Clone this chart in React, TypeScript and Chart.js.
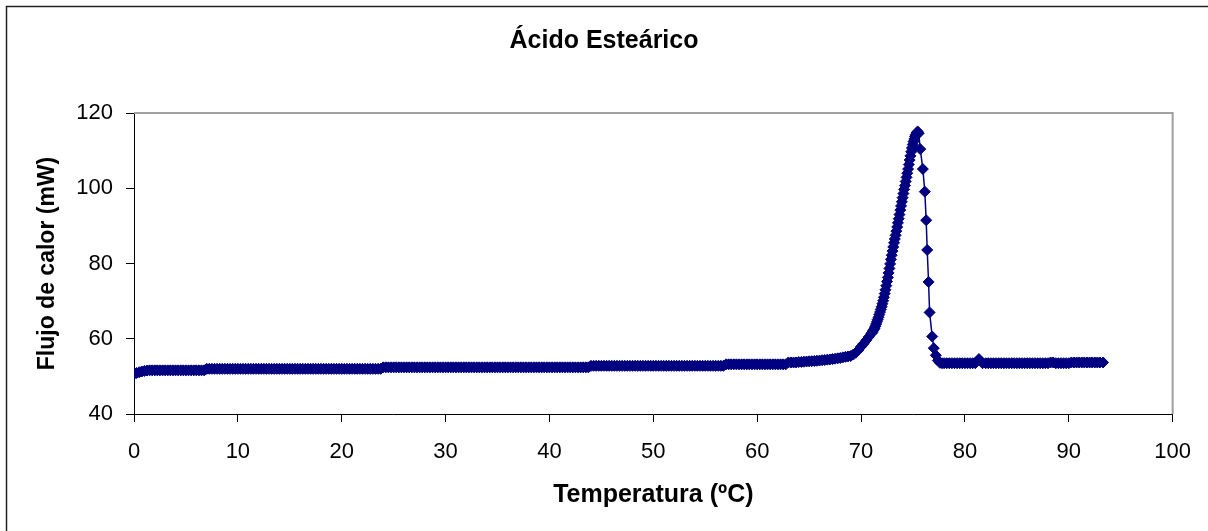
import { useEffect, useRef } from 'react';
import { Chart, registerables } from 'chart.js';

Chart.register(...registerables);

const chartTitle = 'Ácido Esteárico';
const xAxisTitle = 'Temperatura (ºC)';
const yAxisTitle = 'Flujo de calor (mW)';

const xTicks = [0, 10, 20, 30, 40, 50, 60, 70, 80, 90, 100];
const yTicks = [40, 60, 80, 100, 120];

// Baseline before melting (temperature ºC)
const baseTemps = [
  0, 0.25, 0.5, 0.75, 1, 1.25, 1.5, 1.75,
  2, 2.25, 2.5, 2.75, 3, 3.25, 3.5, 3.75,
  4, 4.25, 4.5, 4.75, 5, 5.25, 5.5, 5.75,
  6, 6.25, 6.5, 6.75, 7, 7.25, 7.5, 7.75,
  8, 8.25, 8.5, 8.75, 9, 9.25, 9.5, 9.75,
  10, 10.25, 10.5, 10.75, 11, 11.25, 11.5, 11.75,
  12, 12.25, 12.5, 12.75, 13, 13.25, 13.5, 13.75,
  14, 14.25, 14.5, 14.75, 15, 15.25, 15.5, 15.75,
  16, 16.25, 16.5, 16.75, 17, 17.25, 17.5, 17.75,
  18, 18.25, 18.5, 18.75, 19, 19.25, 19.5, 19.75,
  20, 20.25, 20.5, 20.75, 21, 21.25, 21.5, 21.75,
  22, 22.25, 22.5, 22.75, 23, 23.25, 23.5, 23.75,
  24, 24.25, 24.5, 24.75, 25, 25.25, 25.5, 25.75,
  26, 26.25, 26.5, 26.75, 27, 27.25, 27.5, 27.75,
  28, 28.25, 28.5, 28.75, 29, 29.25, 29.5, 29.75,
  30, 30.25, 30.5, 30.75, 31, 31.25, 31.5, 31.75,
  32, 32.25, 32.5, 32.75, 33, 33.25, 33.5, 33.75,
  34, 34.25, 34.5, 34.75, 35, 35.25, 35.5, 35.75,
  36, 36.25, 36.5, 36.75, 37, 37.25, 37.5, 37.75,
  38, 38.25, 38.5, 38.75, 39, 39.25, 39.5, 39.75,
  40, 40.25, 40.5, 40.75, 41, 41.25, 41.5, 41.75,
  42, 42.25, 42.5, 42.75, 43, 43.25, 43.5, 43.75,
  44, 44.25, 44.5, 44.75, 45, 45.25, 45.5, 45.75,
  46, 46.25, 46.5, 46.75, 47, 47.25, 47.5, 47.75,
  48, 48.25, 48.5, 48.75, 49, 49.25, 49.5, 49.75,
  50, 50.25, 50.5, 50.75, 51, 51.25, 51.5, 51.75,
  52, 52.25, 52.5, 52.75, 53, 53.25, 53.5, 53.75,
  54, 54.25, 54.5, 54.75, 55, 55.25, 55.5, 55.75,
  56, 56.25, 56.5, 56.75, 57, 57.25, 57.5, 57.75,
  58, 58.25, 58.5, 58.75, 59, 59.25, 59.5, 59.75,
  60, 60.25, 60.5, 60.75, 61, 61.25, 61.5, 61.75,
  62, 62.25, 62.5, 62.75, 63, 63.25, 63.5, 63.75,
  64, 64.25, 64.5, 64.75, 65, 65.25, 65.5, 65.75,
];

// Heat flow (mW) on the baseline
const baseFlux = [
  50.6, 50.9, 51.1, 51.3, 51.45, 51.55, 51.6, 51.6,
  51.6, 51.6, 51.6, 51.6, 51.6, 51.6, 51.6, 51.6,
  51.6, 51.6, 51.6, 51.6, 51.6, 51.6, 51.6, 51.6,
  51.6, 51.6, 51.6, 51.6, 52.0, 52.0, 52.0, 52.0,
  52.0, 52.0, 52.0, 52.0, 52.0, 52.0, 52.0, 52.0,
  52.0, 52.0, 52.0, 52.0, 52.0, 52.0, 52.0, 52.0,
  52.0, 52.0, 52.0, 52.0, 52.0, 52.0, 52.0, 52.0,
  52.0, 52.0, 52.0, 52.0, 52.0, 52.0, 52.0, 52.0,
  52.0, 52.0, 52.0, 52.0, 52.0, 52.0, 52.0, 52.0,
  52.0, 52.0, 52.0, 52.0, 52.0, 52.0, 52.0, 52.0,
  52.0, 52.0, 52.0, 52.0, 52.0, 52.0, 52.0, 52.0,
  52.0, 52.0, 52.0, 52.0, 52.0, 52.0, 52.0, 52.0,
  52.4, 52.4, 52.4, 52.4, 52.4, 52.4, 52.4, 52.4,
  52.4, 52.4, 52.4, 52.4, 52.4, 52.4, 52.4, 52.4,
  52.4, 52.4, 52.4, 52.4, 52.4, 52.4, 52.4, 52.4,
  52.4, 52.4, 52.4, 52.4, 52.4, 52.4, 52.4, 52.4,
  52.4, 52.4, 52.4, 52.4, 52.4, 52.4, 52.4, 52.4,
  52.4, 52.4, 52.4, 52.4, 52.4, 52.4, 52.4, 52.4,
  52.4, 52.4, 52.4, 52.4, 52.4, 52.4, 52.4, 52.4,
  52.4, 52.4, 52.4, 52.4, 52.4, 52.4, 52.4, 52.4,
  52.4, 52.4, 52.4, 52.4, 52.4, 52.4, 52.4, 52.4,
  52.4, 52.4, 52.4, 52.4, 52.4, 52.4, 52.4, 52.4,
  52.8, 52.8, 52.8, 52.8, 52.8, 52.8, 52.8, 52.8,
  52.8, 52.8, 52.8, 52.8, 52.8, 52.8, 52.8, 52.8,
  52.8, 52.8, 52.8, 52.8, 52.8, 52.8, 52.8, 52.8,
  52.8, 52.8, 52.8, 52.8, 52.8, 52.8, 52.8, 52.8,
  52.8, 52.8, 52.8, 52.8, 52.8, 52.8, 52.8, 52.8,
  52.8, 52.8, 52.8, 52.8, 52.8, 52.8, 52.8, 52.8,
  52.8, 52.8, 52.8, 52.8, 53.2, 53.2, 53.2, 53.2,
  53.2, 53.2, 53.2, 53.2, 53.2, 53.2, 53.2, 53.2,
  53.2, 53.2, 53.2, 53.2, 53.2, 53.2, 53.2, 53.2,
  53.2, 53.2, 53.2, 53.2, 53.7, 53.7, 53.7, 53.7,
  53.8, 53.85, 53.9, 53.95, 54.0, 54.05, 54.1, 54.15,
];

// Melting peak
const meltTemps = [
  66.0, 66.25, 66.5, 66.75, 67.0, 67.25, 67.5, 67.75,
  68.0, 68.25, 68.5, 68.75, 69.0, 69.25, 69.5, 69.75,
  70.0, 70.25, 70.5, 70.75,
  71.0, 71.08, 71.15, 71.23, 71.3, 71.38, 71.45, 71.53,
  71.6, 71.68, 71.75, 71.83, 71.9, 71.98, 72.05, 72.13,
  72.2, 72.28, 72.35, 72.43, 72.5, 72.58, 72.65, 72.73,
  72.8, 72.88, 72.95, 73.03, 73.1, 73.18, 73.25, 73.33,
  73.4, 73.48, 73.55, 73.63, 73.7, 73.78, 73.85, 73.93,
  74.0, 74.08, 74.15, 74.23, 74.3, 74.38, 74.45, 74.53,
  74.6, 74.68, 74.75, 74.83, 74.9, 74.98, 75.05, 75.13,
  75.2, 75.28, 75.35, 75.45, 75.55,
  75.7, 75.95, 76.14, 76.27, 76.37, 76.5, 76.6, 76.85,
  77.0, 77.2, 77.4, 77.6,
];
const meltFlux = [
  54.2, 54.3, 54.35, 54.45, 54.5, 54.6, 54.7, 54.8,
  54.9, 55.05, 55.2, 55.3, 55.4, 55.8, 56.3, 57.0,
  57.9, 58.7, 59.6, 60.5,
  61.4, 61.7, 62.1, 62.4, 62.8, 63.3, 63.9, 64.5,
  65.1, 65.7, 66.4, 67.1, 67.8, 68.5, 69.3, 70.1,
  71.0, 72.0, 73.0, 74.1, 75.2, 76.3, 77.5, 78.7,
  79.9, 81.1, 82.2, 83.3, 84.4, 85.5, 86.5, 87.5,
  88.6, 89.7, 90.8, 91.9, 93.0, 94.2, 95.3, 96.4,
  97.5, 98.6, 99.7, 100.7, 101.8, 102.9, 104.0, 105.1,
  106.3, 107.5, 108.6, 109.7, 110.7, 111.6, 112.4, 113.1,
  113.8, 114.3, 114.7, 115.1, 114.6,
  110.4, 105.1, 99.1, 91.5, 83.6, 75.1, 67.0, 60.6,
  57.5, 55.6, 54.2, 53.6,
];

// After melting
const tailTemps = [
  77.8, 78, 78.25, 78.5, 78.75, 79, 79.25, 79.5, 79.75,
  80, 80.25, 80.5, 80.75, 81, 81.35, 81.7,
  82, 82.25, 82.5, 82.75, 83, 83.25, 83.5, 83.75,
  84, 84.25, 84.5, 84.75, 85, 85.25, 85.5, 85.75,
  86, 86.25, 86.5, 86.75, 87, 87.25, 87.5, 87.75,
  88, 88.25, 88.5, 88.75, 89, 89.25, 89.5, 89.75,
  90, 90.25, 90.5, 90.75, 91, 91.25, 91.5, 91.75,
  92, 92.25, 92.5, 92.75, 93, 93.3,
];
const tailFlux = [
  53.5, 53.5, 53.5, 53.5, 53.5, 53.5, 53.5, 53.5, 53.5,
  53.5, 53.5, 53.5, 53.5, 53.5, 54.6, 53.5,
  53.5, 53.5, 53.5, 53.5, 53.5, 53.5, 53.5, 53.5,
  53.5, 53.5, 53.5, 53.5, 53.5, 53.5, 53.5, 53.5,
  53.5, 53.5, 53.5, 53.5, 53.5, 53.5, 53.5, 53.5,
  53.5, 53.7, 53.7, 53.5, 53.5, 53.5, 53.5, 53.5,
  53.5, 53.7, 53.7, 53.7, 53.7, 53.7, 53.7, 53.7,
  53.7, 53.7, 53.7, 53.7, 53.7, 53.7,
];

const SERIES_COLOR = '#000080';
const FONT = "'Liberation Sans', Arial, sans-serif";

const framePlugin = {
  id: 'frame',
  beforeDraw(chart: any) {
    const { ctx, width, height } = chart;
    ctx.save();
    ctx.fillStyle = '#ffffff';
    ctx.fillRect(0, 0, width, height);
    ctx.restore();
  },
  beforeDatasetsDraw(chart: any) {
    const { ctx, chartArea } = chart;
    const { left, top, right, bottom } = chartArea;
    ctx.save();
    ctx.strokeStyle = '#a0a0a0';
    ctx.lineWidth = 2;
    ctx.beginPath();
    ctx.moveTo(left, top);
    ctx.lineTo(right, top);
    ctx.lineTo(right, bottom);
    ctx.stroke();
    ctx.restore();
  },
  afterDraw(chart: any) {
    const { ctx, width, height } = chart;
    ctx.save();
    ctx.strokeStyle = '#222222';
    ctx.lineWidth = 1.5;
    ctx.beginPath();
    ctx.moveTo(6.5, height + 2);
    ctx.lineTo(6.5, 6.5);
    ctx.lineTo(width + 2, 6.5);
    ctx.stroke();
    ctx.restore();
  },
};

export default function App() {
  const canvasRef = useRef<HTMLCanvasElement | null>(null);

  useEffect(() => {
    document.body.style.margin = '0';
    const canvas = canvasRef.current;
    if (!canvas) return;

    const points = [
      ...baseTemps.map((t, i) => ({ x: t, y: baseFlux[i] })),
      ...meltTemps.map((t, i) => ({ x: t, y: meltFlux[i] })),
      ...tailTemps.map((t, i) => ({ x: t, y: tailFlux[i] })),
    ];

    const chart = new Chart(canvas, {
      type: 'scatter',
      data: {
        datasets: [
          {
            label: chartTitle,
            data: points,
            showLine: true,
            borderColor: SERIES_COLOR,
            backgroundColor: SERIES_COLOR,
            borderWidth: 1.5,
            pointStyle: 'rectRot',
            pointRadius: 5.5,
            pointBorderWidth: 1,
            pointBackgroundColor: SERIES_COLOR,
            pointBorderColor: SERIES_COLOR,
          },
        ],
      },
      options: {
        animation: false,
        responsive: false,
        events: [],
        layout: { padding: { left: 18.5, right: 18.5, top: 0, bottom: 0 } },
        plugins: {
          legend: { display: false },
          tooltip: { enabled: false },
          title: {
            display: true,
            text: chartTitle,
            color: '#000',
            font: { family: FONT, size: 25, weight: 'bold' },
            padding: { top: 26, bottom: 57 },
          },
        },
        scales: {
          x: {
            type: 'linear',
            min: xTicks[0],
            max: xTicks[xTicks.length - 1],
            afterFit(scale: any) {
              scale.height = 117;
            },
            afterBuildTicks(scale: any) {
              scale.ticks = xTicks.map((v) => ({ value: v }));
            },
            ticks: {
              color: '#000',
              font: { family: FONT, size: 22 },
              padding: 17,
              maxRotation: 0,
              autoSkip: false,
            },
            grid: {
              drawOnChartArea: false,
              drawTicks: true,
              tickLength: 8,
              color: '#000',
              lineWidth: 1,
            },
            border: { display: true, color: '#000', width: 1 },
            title: {
              display: true,
              text: xAxisTitle,
              color: '#000',
              font: { family: FONT, size: 25, weight: 'bold' },
              padding: { top: 0, bottom: 21 },
            },
          },
          y: {
            type: 'linear',
            min: yTicks[0],
            max: yTicks[yTicks.length - 1],
            afterFit(scale: any) {
              scale.width = 115.5;
            },
            afterBuildTicks(scale: any) {
              scale.ticks = yTicks.map((v) => ({ value: v }));
            },
            ticks: {
              color: '#000',
              font: { family: FONT, size: 22 },
              padding: 13,
              autoSkip: false,
            },
            grid: {
              drawOnChartArea: false,
              drawTicks: true,
              tickLength: 8,
              color: '#000',
              lineWidth: 1,
            },
            border: { display: true, color: '#000', width: 1 },
            title: {
              display: true,
              text: yAxisTitle,
              color: '#000',
              font: { family: FONT, size: 23, weight: 'bold' },
              padding: { top: 15, bottom: 0 },
            },
          },
        },
      },
      plugins: [framePlugin],
    });

    return () => {
      chart.destroy();
    };
  }, []);

  return (
    <div style={{ width: 1208, height: 531, position: 'relative' }}>
      <canvas ref={canvasRef} width={1208} height={531} style={{ display: 'block' }} />
    </div>
  );
}
